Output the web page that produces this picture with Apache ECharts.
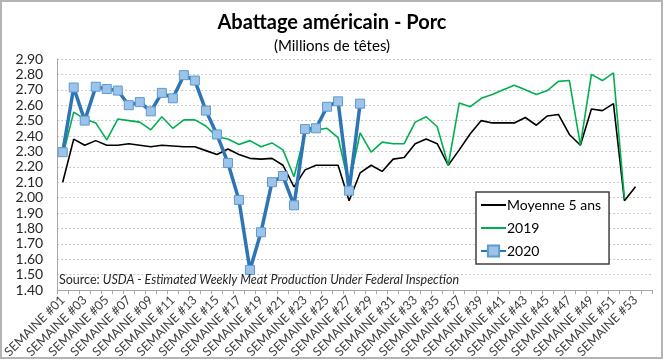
<!DOCTYPE html>
<html><head><meta charset="utf-8">
<script src="https://cdn.jsdelivr.net/npm/echarts@6/dist/echarts.min.js"></script>
<style>html,body{margin:0;padding:0;background:#fff}#c{width:664px;height:361px}</style>
</head><body><div id="c"></div>
<script>
const categories = ["SEMAINE #01","SEMAINE #02","SEMAINE #03","SEMAINE #04","SEMAINE #05","SEMAINE #06","SEMAINE #07","SEMAINE #08","SEMAINE #09","SEMAINE #10",
"SEMAINE #11","SEMAINE #12","SEMAINE #13","SEMAINE #14","SEMAINE #15","SEMAINE #16","SEMAINE #17","SEMAINE #18","SEMAINE #19","SEMAINE #20",
"SEMAINE #21","SEMAINE #22","SEMAINE #23","SEMAINE #24","SEMAINE #25","SEMAINE #26","SEMAINE #27","SEMAINE #28","SEMAINE #29","SEMAINE #30",
"SEMAINE #31","SEMAINE #32","SEMAINE #33","SEMAINE #34","SEMAINE #35","SEMAINE #36","SEMAINE #37","SEMAINE #38","SEMAINE #39","SEMAINE #40",
"SEMAINE #41","SEMAINE #42","SEMAINE #43","SEMAINE #44","SEMAINE #45","SEMAINE #46","SEMAINE #47","SEMAINE #48","SEMAINE #49","SEMAINE #50",
"SEMAINE #51","SEMAINE #52","SEMAINE #53",""];
const moyenne5ans = [2.10,2.38,2.34,2.37,2.34,2.34,2.35,2.34,2.33,2.34,2.335,2.33,2.33,2.305,2.28,2.315,2.28,2.255,2.25,2.255,2.21,2.07,2.18,2.21,2.21,2.21,1.98,2.16,2.21,2.17,2.25,2.26,2.35,2.38,2.35,2.21,2.31,2.415,2.50,2.485,2.485,2.485,2.52,2.47,2.53,2.54,2.41,2.34,2.575,2.565,2.61,1.98,2.07];
const an2019 = [2.27,2.555,2.51,2.485,2.375,2.51,2.50,2.49,2.44,2.525,2.45,2.505,2.505,2.465,2.395,2.38,2.345,2.37,2.33,2.355,2.31,2.135,2.42,2.44,2.45,2.39,2.08,2.42,2.295,2.36,2.35,2.35,2.49,2.525,2.46,2.21,2.615,2.59,2.645,2.67,2.70,2.73,2.70,2.67,2.695,2.755,2.76,2.34,2.80,2.76,2.81,1.99];
const an2020 = [2.295,2.715,2.50,2.72,2.705,2.695,2.60,2.62,2.56,2.68,2.645,2.795,2.76,2.565,2.41,2.225,1.985,1.53,1.775,2.10,2.14,1.95,2.445,2.45,2.59,2.625,2.045,2.61];
const seriesNames = ["Moyenne 5 ans","2019","2020"];
const yMin = 1.4, yMax = 2.9, yStep = 0.1;

const FONT = 'Lato';
const LINE_ICON = 'path://M0,0L25,0L25,2L0,2Z';
const chart = echarts.init(document.getElementById('c'), null, {renderer:'canvas'});
chart.setOption({
  animation:false,
  backgroundColor:'#fff',
  textStyle:{fontFamily:FONT},
  title:[
    {text:'Abattage américain - Porc', left:'center', top:8, textStyle:{fontFamily:FONT,fontSize:20,fontWeight:'bold',color:'#000'}},
    {text:'(Millions de têtes)', left:'center', top:34, textStyle:{fontFamily:FONT,fontSize:15,fontWeight:'normal',color:'#000'}}
  ],
  grid:{left:49, right:12, top:59, bottom:71, containLabel:false},
  legend:{
    orient:'vertical', left:476, top:192,
    padding:[6,8,6,4], itemGap:9, itemWidth:25, itemHeight:14,
    borderColor:'#404040', borderWidth:1.5, backgroundColor:'#fff',
    textStyle:{fontFamily:FONT,fontSize:14,color:'#000',padding:[0,0,0,-4]},
    data:[
      {name:seriesNames[0], icon:LINE_ICON, itemStyle:{color:'#000'}},
      {name:seriesNames[1], icon:LINE_ICON, itemStyle:{color:'#00b050'}},
      {name:seriesNames[2]}
    ]
  },
  xAxis:{
    type:'category', data:categories, boundaryGap:true,
    axisLine:{lineStyle:{color:'#a6a6a6',width:1}},
    axisTick:{show:true,interval:0,length:4,lineStyle:{color:'#a6a6a6'}},
    axisLabel:{interval:1,rotate:45,fontFamily:FONT,fontSize:12.5,color:'#404040',margin:8},
    splitLine:{show:false}
  },
  yAxis:{
    type:'value', min:yMin, max:yMax, interval:yStep,
    axisLine:{show:true,lineStyle:{color:'#a6a6a6',width:1}},
    axisTick:{show:false},
    axisLabel:{fontFamily:FONT,fontSize:14,color:'#262626',margin:14,formatter:v=>v.toFixed(2)},
    splitLine:{show:true,lineStyle:{color:'#c8c8c8',type:[2,2],width:1}}
  },
  series:[
    {name:seriesNames[0], type:'line', data:moyenne5ans, symbol:'none', lineStyle:{color:'#000',width:1.6}, itemStyle:{color:'#000'}, z:2},
    {name:seriesNames[1], type:'line', data:an2019, symbol:'none', lineStyle:{color:'#00b050',width:1.6}, itemStyle:{color:'#00b050'}, z:3},
    {name:seriesNames[2], type:'line', data:an2020, symbol:'rect', symbolSize:9, showAllSymbol:true, lineStyle:{color:'#2e75b6',width:3.5},
      itemStyle:{color:'#9dc3e6',borderColor:'#5b9bd5',borderWidth:1}, z:4}
  ],
  graphic:[
    {type:'rect', shape:{x:1,y:1,width:661,height:357}, style:{fill:'none',stroke:'#b4b4b4',lineWidth:2}, silent:true, z:0},
    {type:'text', left:59, top:273, style:{
      text:'{a|Source: }{b|USDA - Estimated Weekly Meat Production Under Federal Inspection}',
      rich:{a:{fontFamily:FONT,fontSize:12.5,fill:'#262626'},b:{fontFamily:FONT,fontSize:12.5,fontStyle:'italic',fill:'#262626'}}
    }, z:10}
  ]
});
</script></body></html>
